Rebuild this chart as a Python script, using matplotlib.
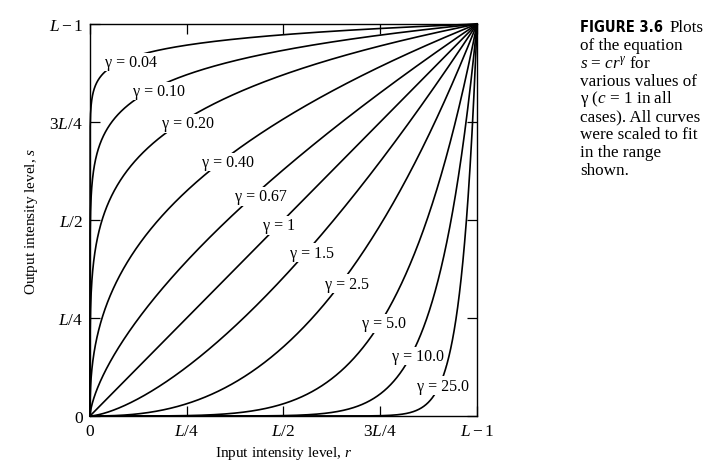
import numpy as np
import matplotlib
matplotlib.use("Agg")
import matplotlib.pyplot as plt

plt.rcParams["font.family"] = ["Liberation Serif", "DejaVu Serif"]
plt.rcParams["mathtext.fontset"] = "custom"
plt.rcParams["mathtext.rm"] = "Liberation Serif"
plt.rcParams["mathtext.it"] = "Liberation Serif:italic"

# gamma values and their label text
gammas = [0.04, 0.10, 0.20, 0.40, 0.67, 1.0, 1.5, 2.5, 5.0, 10.0, 25.0]
gamma_labels = ["0.04", "0.10", "0.20", "0.40", "0.67", "1", "1.5", "2.5", "5.0", "10.0", "25.0"]
# label centres in data units (r, s)
label_x = [0.106, 0.178, 0.253, 0.357, 0.442, 0.488, 0.574, 0.664, 0.760, 0.848, 0.912]
label_y = [0.903, 0.829, 0.747, 0.648, 0.561, 0.487, 0.416, 0.337, 0.237, 0.153, 0.077]

tick_pos = [0, 0.25, 0.5, 0.75, 1.0]
x_ticklabels = ["0", "$L/4$", "$L/2$", "$3L/4$", "$L-1$"]
y_ticklabels = ["0", "$L/4$", "$L/2$", "$3L/4$", "$L-1$"]

fig = plt.figure(figsize=(7.21, 4.77), dpi=100)
ax = fig.add_axes([0.1248, 0.1258, 0.5368, 0.8218])

r = np.linspace(0, 1, 2000)
for g, lab, lx, ly in zip(gammas, gamma_labels, label_x, label_y):
    ax.plot(r, r ** g, color="black", linewidth=1.2, zorder=2, clip_on=False)
    ax.text(lx, ly, "\u03b3 = " + lab, fontsize=11.5, ha="center", va="center",
            zorder=3, bbox=dict(facecolor="white", edgecolor="none", pad=1.0))

ax.set_xlim(0, 1)
ax.set_ylim(0, 1)
ax.set_xticks(tick_pos)
ax.set_yticks(tick_pos)
ax.set_xticklabels(x_ticklabels, fontsize=12.5)
ax.set_yticklabels(y_ticklabels, fontsize=12.5)
ax.tick_params(direction="in", length=7, width=0.9, top=True, right=True, pad=5)
for sp in ax.spines.values():
    sp.set_linewidth(1.0)

ax.set_xlabel("Input intensity level, $r$", fontsize=11, labelpad=4)
ax.set_ylabel("Output intensity level, $s$", fontsize=11, labelpad=6)

# caption on the right
cap_x = 580 / 721
head = fig.text(cap_x, 1 - 28 / 477, "FIGURE 3.6", fontsize=10.5, fontweight="bold",
                fontstretch="condensed", family=["DejaVu Sans"], va="center", ha="left")
fig.canvas.draw()
hb = head.get_window_extent().transformed(fig.transFigure.inverted())
fig.text(hb.x1 + 7 / 721, 1 - 28 / 477, "Plots", fontsize=12.3, va="center", ha="left")
caption_lines = [
    "of the equation",
    "$s$ = $cr^{\\gamma}$ for",
    "various values of",
    "\u03b3 ($c$ = 1 in all",
    "cases). All curves",
    "were scaled to fit",
    "in the range",
    "shown.",
]
for i, line in enumerate(caption_lines):
    fig.text(cap_x, 1 - (46 + i * 17.8) / 477, line, fontsize=12.3, va="center", ha="left")

fig.savefig("out.png", dpi=100)
